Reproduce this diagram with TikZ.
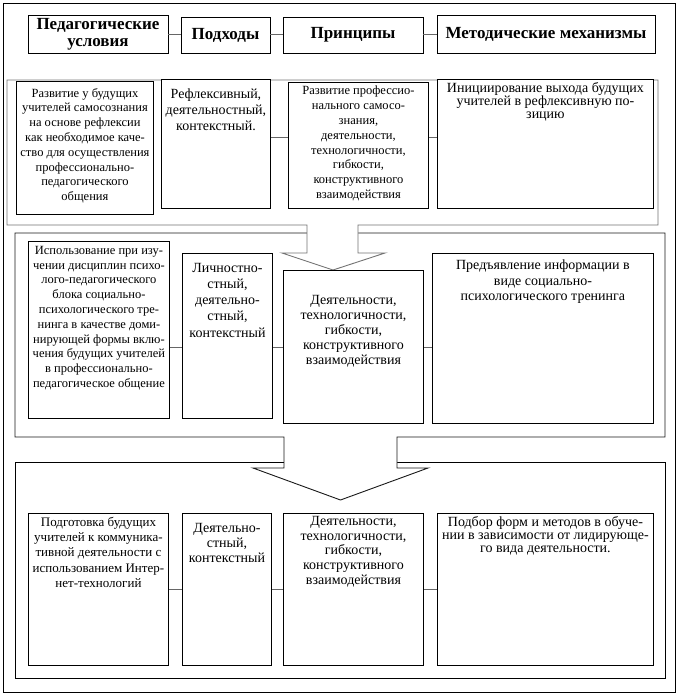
\documentclass[tikz,border=0pt]{standalone}
\usepackage{fontspec}
\setmainfont{Liberation Serif}
\newcommand\cellbox[5]{\node[box, anchor=north west, minimum width=#4pt-#2pt, minimum height=#5pt-#3pt] (#1) at (#2,#3) {};}
\newcommand\fs[2]{\fontsize{#1}{#2}\selectfont}
\begin{document}
\begin{tikzpicture}[x=1pt,y=-1pt,
  box/.style={draw, line width=0.9pt, fill=white, inner sep=0pt},
  sect/.style={line width=0.9pt, fill=white},
  conn/.style={draw=black!60, line width=0.8pt},
  txt/.style={inner sep=0pt, align=center, anchor=north},
  head/.style={box, align=center, font=\fs{17}{17}\bfseries}]
\useasboundingbox (0,0) rectangle (681,696);
% outer frame
\draw[line width=0.9pt] (3,3) rectangle (675,692);
% section 3
\draw[sect, draw=black] (15,462) rectangle (665,678);
% section 2 with arrow
\draw[sect, draw=black!90] (15,233) -- (665,233) -- (665,437) -- (397,437) -- (397,468) -- (428,468) -- (340.5,500) -- (253,468) -- (284,468) -- (284,437) -- (15,437) -- cycle;
% section 1 with arrow
\draw[sect, draw=black!55] (7,80) -- (658,80) -- (658,225) -- (358,225) -- (358,253) -- (385,253) -- (333,270) -- (282,253) -- (307,253) -- (307,225) -- (7,225) -- cycle;

% header
\node[head, minimum width=140pt, minimum height=38pt] (h1) at (98,34) {Педагогические\\условия};
\node[head, minimum width=89pt, minimum height=36pt] (h2) at (225.5,35) {Подходы};
\node[head, minimum width=140pt, minimum height=36pt] (h3) at (353,35) {Принципы};
\node[head, minimum width=218pt, minimum height=38pt] (h4) at (546,34) {Методические механизмы};
\draw[conn] (h1.east |- 0,34) -- (h2.west |- 0,34);
\draw[conn] (h2.east |- 0,34) -- (h3.west |- 0,34);
\draw[conn] (h3.east |- 0,34) -- (h4.west |- 0,34);

% row A
\cellbox{a1}{16}{81}{153}{214}
\cellbox{a2}{161}{79}{270}{208}
\cellbox{a3}{288}{82}{428}{208}
\cellbox{a4}{437}{79}{653}{208}
\node[txt, font=\fs{12.5}{14.8}] (a1t) at ([yshift=-7pt]a1.north) {Развитие у будущих\\учителей самосознания\\на основе рефлексии\\как необходимое каче-\\ство для осуществления\\профессионально-\\педагогического\\общения};
\node[txt, font=\fs{14}{15.8}] (a2t) at ([yshift=-10pt]a2.north) {Рефлексивный,\\деятельностный,\\контекстный.};
\node[txt, font=\fs{12.5}{14.8}] (a3t) at ([yshift=-4pt]a3.north) {Развитие профессио-\\нального самосо-\\знания,\\деятельности,\\технологичности,\\гибкости,\\конструктивного\\взаимодействия};
\node[txt, font=\fs{14}{13}] (a4t) at ([yshift=-3pt]a4.north) {Инициирование выхода будущих\\учителей в рефлексивную по-\\зицию};
\draw[conn] (a2.east |- 0,137) -- (a3.west |- 0,137);
\draw[conn] (a3.east |- 0,137) -- (a4.west |- 0,137);

% row B
\cellbox{b1}{28}{241}{169}{418}
\cellbox{b2}{182}{253}{272}{418}
\cellbox{b3}{283}{270}{423}{423}
\cellbox{b4}{432}{253}{653}{423}
\node[txt, font=\fs{12.5}{14.8}] (b1t) at ([yshift=-5pt]b1.north) {Использование при изу-\\чении дисциплин психо-\\лого-педагогического\\блока социально-\\психологического тре-\\нинга в качестве доми-\\нирующей формы вклю-\\чения будущих учителей\\в профессионально-\\педагогическое общение};
\node[txt, font=\fs{14}{16.2}] (b2t) at ([yshift=-10pt]b2.north) {Личностно-\\стный,\\деятельно-\\стный,\\контекстный};
\node[txt, font=\fs{14}{15}] (b3t) at ([yshift=-25pt]b3.north) {Деятельности,\\технологичности,\\гибкости,\\конструктивного\\взаимодействия};
\node[txt, font=\fs{14}{15.5}] (b4t) at ([yshift=-7pt]b4.north) {Предъявление информации в\\виде социально-\\психологического тренинга};
\draw[conn] (b1.east |- 0,347) -- (b2.west |- 0,347);
\draw[conn] (b2.east |- 0,347) -- (b3.west |- 0,347);
\draw[conn] (b3.east |- 0,347) -- (b4.west |- 0,347);

% row C
\cellbox{c1}{28}{513}{168}{665}
\cellbox{c2}{182}{513}{271}{665}
\cellbox{c3}{283}{513}{423}{665}
\cellbox{c4}{437}{513}{653}{665}
\node[txt, font=\fs{13}{15.2}] (c1t) at ([yshift=-4pt]c1.north) {Подготовка будущих\\учителей к коммуника-\\тивной деятельности с\\использованием Интер-\\нет-технологий};
\node[txt, font=\fs{14}{15}] (c2t) at ([yshift=-10pt]c2.north) {Деятельно-\\стный,\\контекстный};
\node[txt, font=\fs{14}{14.8}] (c3t) at ([yshift=-3pt]c3.north) {Деятельности,\\технологичности,\\гибкости,\\конструктивного\\взаимодействия};
\node[txt, font=\fs{14}{13.3}] (c4t) at ([yshift=-3pt]c4.north) {Подбор форм и методов в обуче-\\нии в зависимости от лидирующе-\\го вида деятельности.};
\draw[conn] (c1.east |- 0,589) -- (c2.west |- 0,589);
\draw[conn] (c2.east |- 0,589) -- (c3.west |- 0,589);
\draw[conn] (c3.east |- 0,589) -- (c4.west |- 0,589);
\end{tikzpicture}
\end{document}
